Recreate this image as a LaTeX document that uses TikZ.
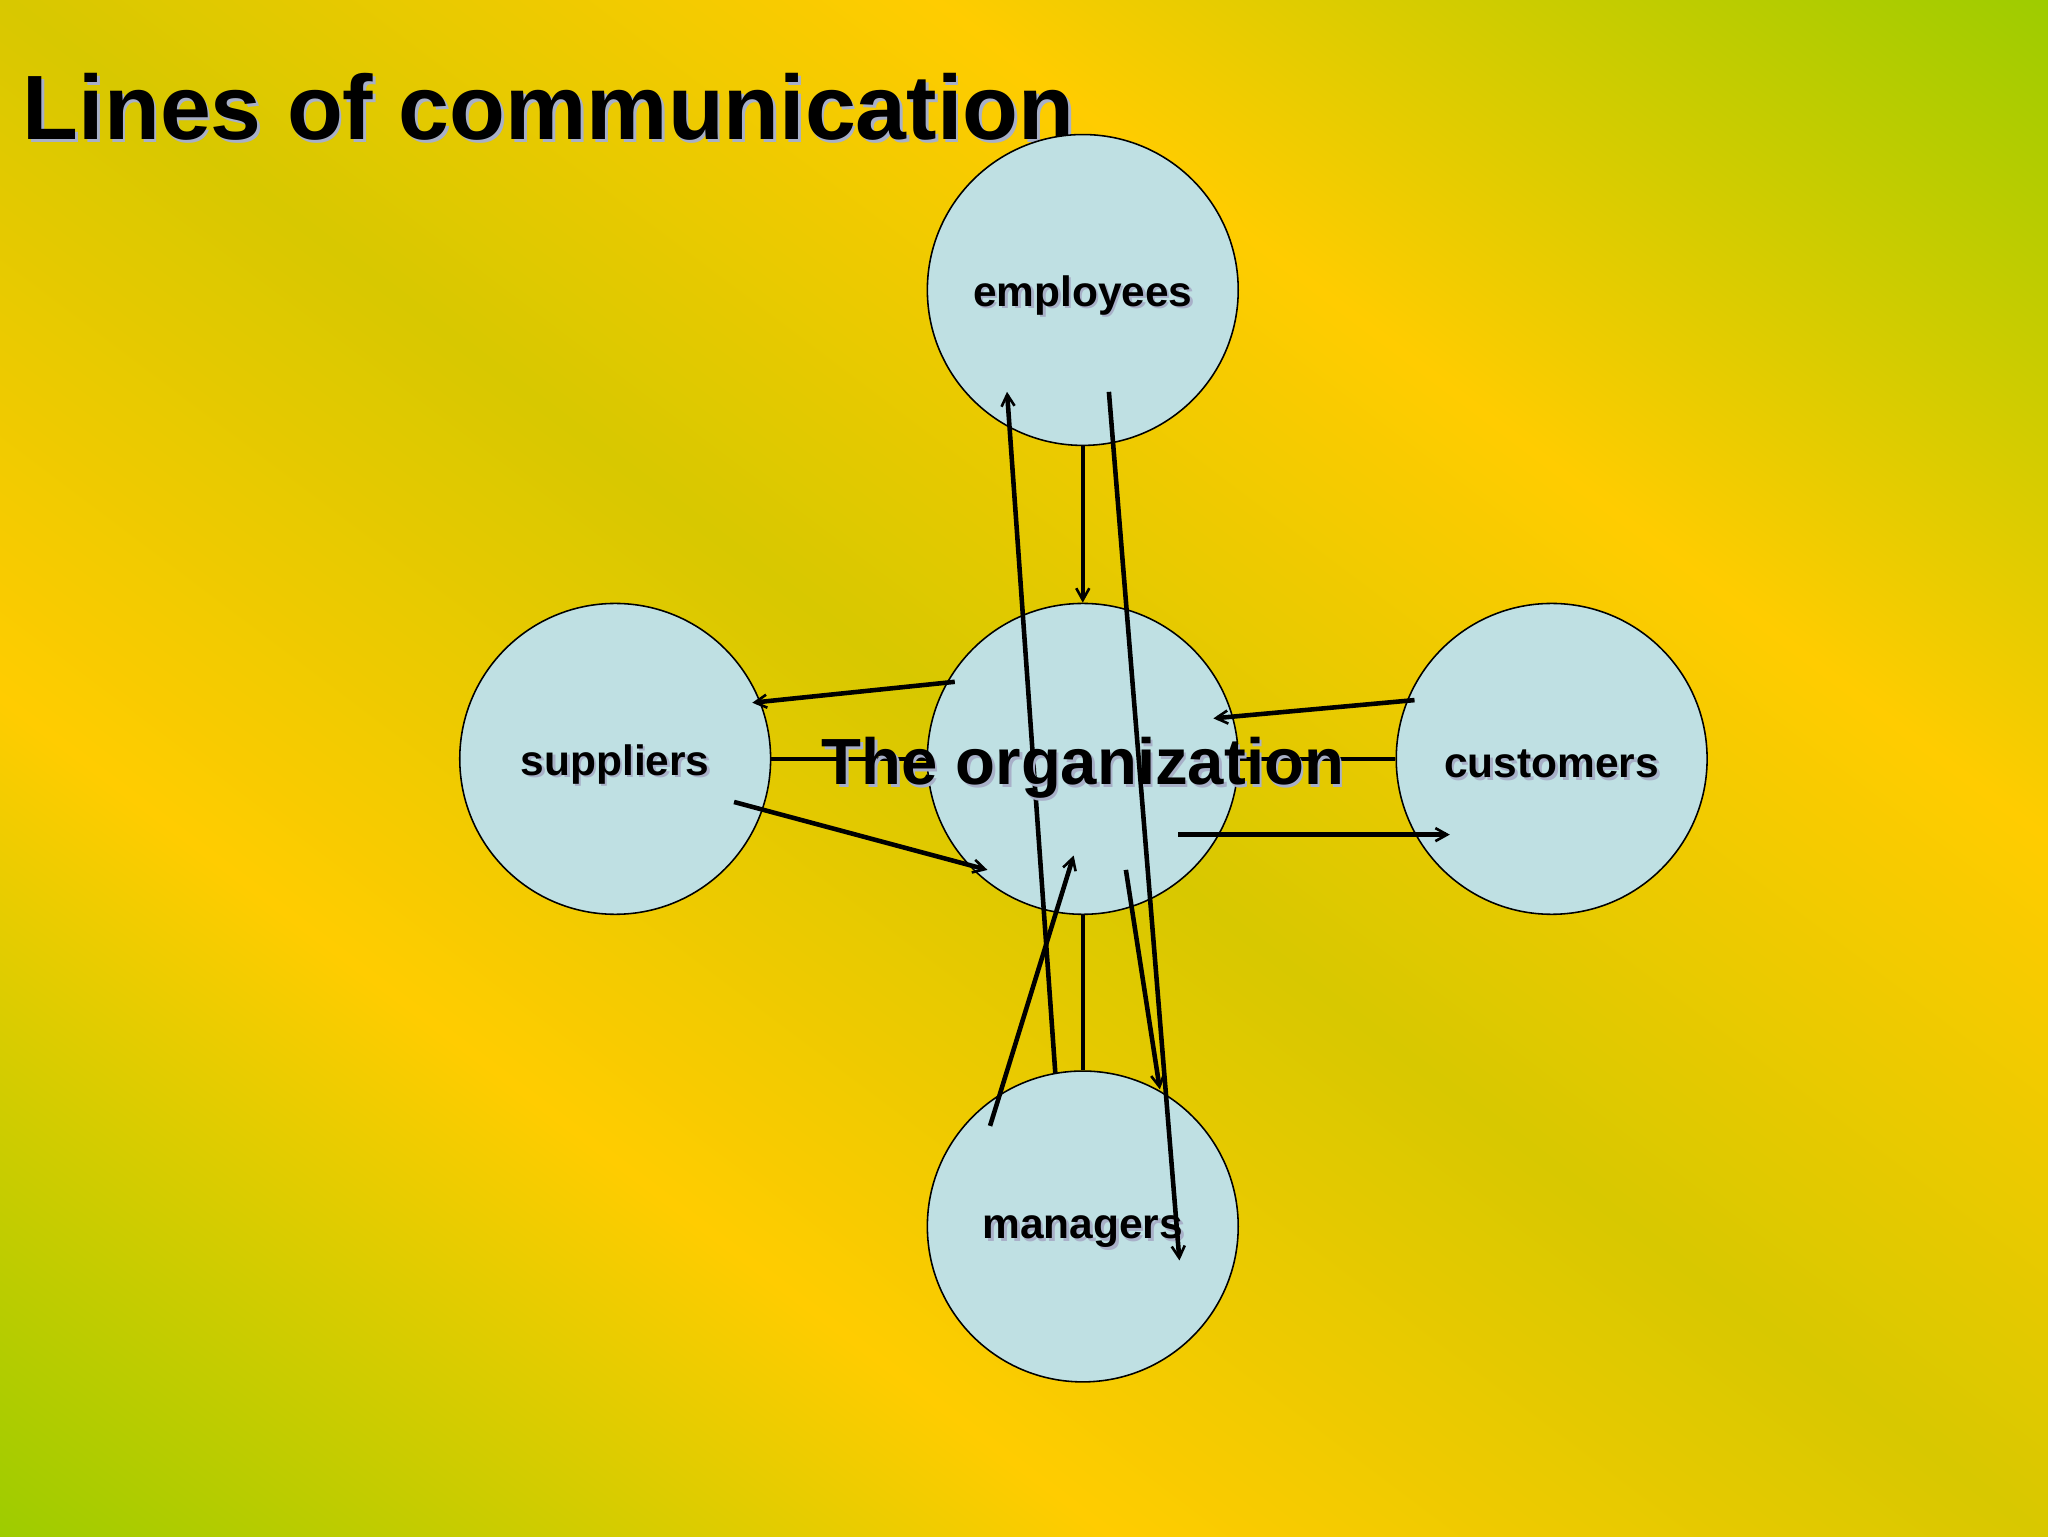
\documentclass[tikz,border=0pt]{standalone}
\usepackage{fontspec}
\setmainfont{Liberation Sans}
\usetikzlibrary{arrows.meta,shadings}
\definecolor{yel}{HTML}{FFCC00}
\definecolor{grn}{HTML}{99CC00}
\definecolor{midc}{HTML}{D8C800}
\definecolor{circ}{HTML}{BFE0E3}
\definecolor{shd}{HTML}{A8B0C8}
\pgfdeclareverticalshading{bgshade}{100bp}{color(0bp)=(grn); color(14bp)=(grn); color(34bp)=(yel); color(50bp)=(midc); color(66bp)=(yel); color(86bp)=(grn); color(100bp)=(grn)}
\tikzset{
  bubble/.style={circle,draw=black,line width=1.2pt,fill=circ,minimum size=238pt,inner sep=0pt},
  lbl/.style={font=\fontsize{32.5}{36}\selectfont\bfseries},
  link/.style={line width=3.5pt},
  arr/.style={line width=3.5pt,-{Straight Barb[length=9pt,width=10pt,line width=2pt]}}
}
\newcommand{\shtext}[4]{\node[#1,text=shd] at ([shift={(2pt,-2pt)}]#2) {#4};\node[#1] (#3) at (#2) {#4};}
\begin{document}
\begin{tikzpicture}[x=1pt,y=-1pt]
\useasboundingbox (0,0) rectangle (1568,1176);
\shade[shading=bgshade,shading angle=-37] (0,0) rectangle (1568,1176);
\coordinate (tpos) at (14,82);
\coordinate (opos) at (829,588);
\shtext{lbl,font=\fontsize{70}{74}\selectfont\bfseries,anchor=west}{tpos}{title}{Lines of communication}
\node[bubble] (emp) at (829,222) {};
\node[bubble] (org) at (829,581) {};
\node[bubble] (sup) at (471,581) {};
\node[bubble] (cus) at (1188,581) {};
\node[bubble] (man) at (829,939) {};
\coordinate (empc) at (829,226);
\coordinate (supc) at (471,585);
\coordinate (cusc) at (1188,585);
\coordinate (manc) at (829,943);
\shtext{lbl}{empc}{empl}{employees}
\shtext{lbl}{supc}{supl}{suppliers}
\shtext{lbl}{cusc}{cusl}{customers}
\shtext{lbl}{manc}{manl}{managers}
\draw[link] (sup.east) -- (org.west);
\draw[link] (org.east) -- (cus.west);
\draw[arr] (emp.south) -- (org.north);
\draw[link] (org.south) -- (man.north);
\coordinate (a1) at (731,522); \coordinate (a2) at (576,538);
\coordinate (b1) at (562,614); \coordinate (b2) at (756,666);
\coordinate (c1) at (1083,536); \coordinate (c2) at (929,550);
\coordinate (d1) at (902,639); \coordinate (d2) at (1110,639);
\coordinate (e1) at (808,822); \coordinate (e2) at (771,300);
\coordinate (f1) at (849,300); \coordinate (f2) at (903,965);
\coordinate (g1) at (758,862); \coordinate (g2) at (822,655);
\coordinate (h1) at (862,666); \coordinate (h2) at (888,834);
\draw[arr] (a1) -- (a2);
\draw[arr] (b1) -- (b2);
\draw[arr] (c1) -- (c2);
\draw[arr] (d1) -- (d2);
\draw[arr] (e1) -- (e2);
\draw[arr] (f1) -- (f2);
\draw[arr] (g1) -- (g2);
\draw[arr] (h1) -- (h2);
\shtext{lbl,font=\fontsize{50}{54}\selectfont\bfseries}{opos}{orgl}{The organization}
\end{tikzpicture}
\end{document}
